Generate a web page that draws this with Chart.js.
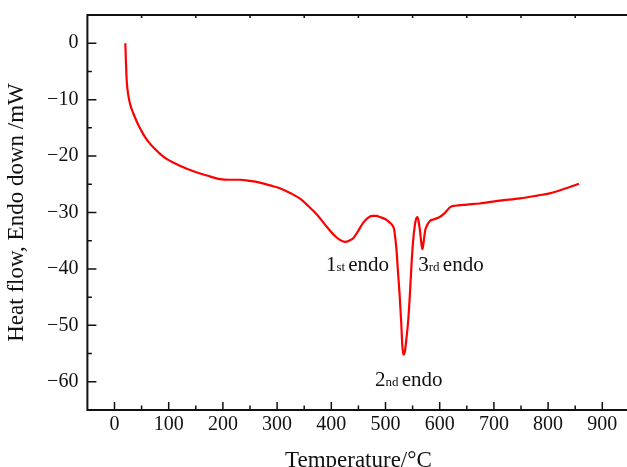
<!DOCTYPE html>
<html>
<head>
<meta charset="utf-8">
<script src="https://cdn.jsdelivr.net/npm/chart.js@4"></script>
<style>
  html, body { margin: 0; padding: 0; background: #fff; overflow: hidden; }
  #wrap { width: 640px; height: 480px; }
</style>
</head>
<body>
<div id="wrap"><canvas id="dscChart" width="640" height="480"></canvas></div>
<script>
// DSC trace
const temperature = [
  20, 21, 22.5, 26, 30, 35, 44, 53, 62, 72, 84, 96, 112, 127, 143, 158, 176, 195,
  212, 231, 250, 268, 287, 305, 325, 343, 358, 373, 388, 404, 415, 425, 433, 441,
  450, 459, 467, 475, 483, 490, 500, 508, 513, 516, 518, 520.6, 523, 526, 529, 531,
  533, 536, 539, 542, 545, 548, 551, 554.4, 557, 559, 561, 563.7, 566, 568, 570,
  573, 577, 582, 590, 600, 607, 613, 620, 628, 650, 674, 711, 748, 780, 803, 830, 857
];
const heatFlow = [
  0, -3, -6.6, -9.5, -11.2, -12.5, -14.5, -16.1, -17.4, -18.5, -19.6, -20.5, -21.3,
  -22, -22.6, -23.1, -23.6, -24.1, -24.2, -24.2, -24.4, -24.7, -25.2, -25.7, -26.6,
  -27.6, -28.9, -30.3, -32.1, -33.9, -34.8, -35.2, -35.0, -34.5, -33.2, -31.8, -31.0,
  -30.6, -30.6, -30.8, -31.2, -31.8, -32.3, -33, -34.5, -37, -40.5, -44.5, -49.5,
  -53.5, -55.2, -54.5, -52, -49, -44.5, -39.2, -35, -32.1, -31, -30.8, -31.5, -33.3,
  -35.3, -36.5, -35.5, -33.3, -32.2, -31.5, -31.2, -30.8, -30.3, -29.7, -29.0, -28.8,
  -28.6, -28.4, -27.9, -27.5, -27.0, -26.6, -25.8, -24.9
];

// axes
const xTicks = [0, 100, 200, 300, 400, 500, 600, 700, 800, 900];
const yTicks = [-60, -50, -40, -30, -20, -10, 0];

// peak labels: number, ordinal suffix, anchor (temperature, heat flow)
const peakNum = ["1", "2", "3"];
const peakSuffix = ["st", "nd", "rd"];
const peakAtT = [390, 480.6, 560.5];
const peakAtH = [-40.3, -60.7, -40.3];

const SERIF = "'Liberation Serif', 'Times New Roman', serif";
const minus = v => (v < 0 ? "\u2212" + Math.abs(v) : String(v));

const frame = {
  id: "frame",
  afterDraw(chart) {
    const { ctx, chartArea: a, scales: { x, y } } = chart;
    ctx.save();
    ctx.strokeStyle = "#111";
    ctx.lineWidth = 2;
    ctx.strokeRect(a.left, a.top, a.right - a.left, a.bottom - a.top);

    ctx.lineWidth = 1.5;
    ctx.beginPath();
    // bottom ticks (inward)
    xTicks.forEach(v => {
      const px = x.getPixelForValue(v);
      ctx.moveTo(px, a.bottom); ctx.lineTo(px, a.bottom - 8);
      const pm = x.getPixelForValue(v + 50);
      ctx.moveTo(pm, a.bottom); ctx.lineTo(pm, a.bottom - 4.5);
      // small marks on the top edge
      ctx.moveTo(pm, a.top); ctx.lineTo(pm, a.top + 3);
    });
    // left ticks (inward)
    yTicks.forEach(v => {
      const py = y.getPixelForValue(v);
      ctx.moveTo(a.left, py); ctx.lineTo(a.left + 9, py);
      if (v > -60) {
        const pm = y.getPixelForValue(v - 5);
        ctx.moveTo(a.left, pm); ctx.lineTo(a.left + 4.5, pm);
      }
    });
    ctx.stroke();

    // peak annotations
    ctx.fillStyle = "#111";
    ctx.textBaseline = "alphabetic";
    ctx.textAlign = "left";
    peakNum.forEach((n, i) => {
      let px = x.getPixelForValue(peakAtT[i]);
      const py = y.getPixelForValue(peakAtH[i]);
      ctx.font = "21px " + SERIF;
      ctx.fillText(n, px, py);
      px += ctx.measureText(n).width;
      ctx.font = "13px " + SERIF;
      ctx.fillText(peakSuffix[i] + " ", px, py);
      px += ctx.measureText(peakSuffix[i] + " ").width;
      ctx.font = "21px " + SERIF;
      ctx.fillText("endo", px, py);
    });
    ctx.restore();
  }
};

new Chart(document.getElementById("dscChart"), {
  type: "line",
  data: {
    datasets: [{
      data: temperature.map((t, i) => ({ x: t, y: heatFlow[i] })),
      borderColor: "#ff0000",
      borderWidth: 2.2,
      pointRadius: 0,
      cubicInterpolationMode: "monotone",
      fill: false
    }]
  },
  options: {
    responsive: false,
    animation: false,
    layout: { padding: { top: 0, right: 10.6, left: 0, bottom: 0 } },
    plugins: { legend: { display: false }, tooltip: { enabled: false } },
    scales: {
      x: {
        type: "linear",
        min: -50,
        max: 950,
        afterFit: s => { s.height = 70; },
        afterBuildTicks: s => { s.ticks = xTicks.map(v => ({ value: v })); },
        grid: { display: false, drawTicks: false },
        border: { display: false },
        ticks: {
          padding: 3,
          color: "#111",
          font: { family: SERIF, size: 20 },
          callback: v => minus(v)
        },
        title: {
          display: true,
          text: "Temperature/\u00b0C",
          color: "#111",
          font: { family: SERIF, size: 23 },
          padding: { top: 0, bottom: 5 }
        }
      },
      y: {
        min: -65,
        max: 5,
        afterFit: s => { s.width = 87.4; s.paddingTop = 15; },
        afterBuildTicks: s => { s.ticks = yTicks.map(v => ({ value: v })); },
        grid: { display: false, drawTicks: false },
        border: { display: false },
        ticks: {
          padding: 9,
          color: "#111",
          font: { family: SERIF, size: 20 },
          callback: v => minus(v)
        },
        title: {
          display: true,
          text: "Heat flow, Endo down /mW",
          color: "#111",
          font: { family: SERIF, size: 23 },
          padding: { top: 3, bottom: 0 }
        }
      }
    }
  },
  plugins: [frame]
});
</script>
</body>
</html>
